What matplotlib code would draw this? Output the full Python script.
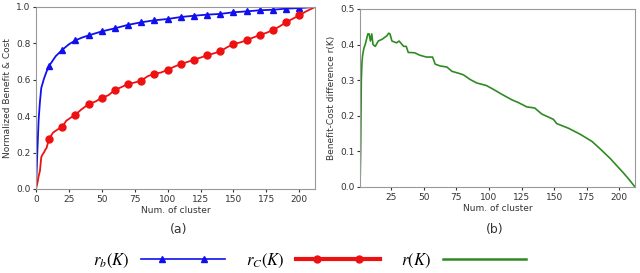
import matplotlib
matplotlib.use("Agg")
from matplotlib import pyplot as plt
from matplotlib.lines import Line2D
from matplotlib.legend_handler import HandlerLine2D

# benefit r_b(K)
benefit_k = [0, 1, 2, 3, 4, 6, 8, 10, 15, 20, 25, 30, 35, 40, 50, 60, 70, 80, 90,
             100, 110, 120, 130, 140, 150, 160, 170, 180, 190, 200, 212]
benefit_v = [0.0, 0.2, 0.38, 0.48, 0.555, 0.605, 0.645, 0.677, 0.73, 0.765, 0.795,
             0.817, 0.832, 0.844, 0.866, 0.883, 0.902, 0.916, 0.927, 0.934, 0.945,
             0.952, 0.958, 0.962, 0.971, 0.976, 0.982, 0.985, 0.991, 0.994, 1.0]

# cost r_c(K)
cost_k = [0, 1, 2, 3, 4, 5, 6, 7, 8, 10, 13, 16, 20, 23, 26, 30, 35, 40, 45, 50,
          55, 60, 65, 70, 75, 80, 85, 90, 95, 100, 105, 110, 115, 120, 125, 130,
          135, 140, 145, 150, 155, 160, 165, 170, 175, 180, 185, 190, 195, 200,
          205, 212]
cost_v = [0.0, 0.03, 0.07, 0.1, 0.175, 0.19, 0.2, 0.215, 0.225, 0.277, 0.31, 0.325,
          0.343, 0.375, 0.39, 0.409, 0.44, 0.466, 0.48, 0.501, 0.515, 0.545, 0.56,
          0.578, 0.585, 0.596, 0.62, 0.633, 0.64, 0.655, 0.672, 0.686, 0.698, 0.71,
          0.722, 0.734, 0.745, 0.756, 0.778, 0.796, 0.805, 0.817, 0.832, 0.846,
          0.858, 0.873, 0.893, 0.916, 0.935, 0.954, 0.975, 1.0]

# difference r(K)
diff_k = [1, 1.5, 2, 2.5, 3, 4, 5, 6, 7, 8, 9, 10, 11, 12.7, 15, 18, 21.7, 23, 24,
          25.5, 29, 31, 34.5, 36.5, 38, 43, 47, 52, 56.7, 58.7, 62.5, 67.7, 71.5,
          78, 80.4, 85.5, 90.7, 98, 103, 110, 117.5, 122.6, 129, 135, 140.5, 149.4,
          152, 161, 170, 179, 185, 193, 198, 203, 207.7, 212]
diff_v = [0.0, 0.1, 0.3, 0.35, 0.37, 0.39, 0.40, 0.415, 0.43, 0.43, 0.41, 0.43, 0.40,
          0.395, 0.41, 0.415, 0.425, 0.432, 0.43, 0.41, 0.405, 0.41, 0.395, 0.395,
          0.378, 0.377, 0.37, 0.365, 0.365, 0.345, 0.34, 0.337, 0.325, 0.318, 0.315,
          0.302, 0.292, 0.285, 0.275, 0.26, 0.245, 0.237, 0.225, 0.222, 0.205, 0.19,
          0.178, 0.165, 0.148, 0.128, 0.108, 0.08, 0.06, 0.04, 0.02, 0.0]

marker_ks = list(range(10, 201, 10))

plt.rcParams["mathtext.fontset"] = "stix"
tick_fs = 6.5
spine_col = "#999999"
text_col = "#333333"
blue = "#1010ee"
red = "#ee1111"
green = "#2e8b22"


class InsetMarkers(HandlerLine2D):
    # two markers at 1/4 and 3/4 of the sample line
    def create_artists(self, *args, **kwargs):
        arts = super().create_artists(*args, **kwargs)
        arts[0].set_markevery([1, 3])
        return arts


fig = plt.figure(figsize=(6.4, 2.73), dpi=100)
ax1 = fig.add_axes([36 / 640, 1 - 189 / 273, 279 / 640, 182 / 273])
ax2 = fig.add_axes([360 / 640, 1 - 187 / 273, 275 / 640, 178 / 273])

blue_marks = [i for i, k in enumerate(benefit_k) if k in marker_ks]
red_marks = [i for i, k in enumerate(cost_k) if k in marker_ks]

ax1.plot(benefit_k, benefit_v, color=blue, lw=1.3, marker="^", ms=5,
         markevery=blue_marks)
ax1.plot(cost_k, cost_v, color=red, lw=1.3, marker="o", ms=5,
         markevery=red_marks)
ax1.set_xlim(0, 212)
ax1.set_ylim(0, 1)
ax1.set_xticks(range(0, 201, 25))
ax1.set_yticks([0, 0.2, 0.4, 0.6, 0.8, 1.0])
ax1.set_xlabel("Num. of cluster", fontsize=tick_fs, color=text_col, labelpad=2)
ax1.set_ylabel("Normalized Benefit & Cost", fontsize=tick_fs, color=text_col,
               labelpad=3)

ax2.plot(diff_k, diff_v, color=green, lw=1.2)
ax2.set_xlim(1, 212)
ax2.set_ylim(0, 0.5)
ax2.set_xticks(range(25, 201, 25))
ax2.set_yticks([0, 0.1, 0.2, 0.3, 0.4, 0.5])
ax2.set_xlabel("Num. of cluster", fontsize=tick_fs, color=text_col, labelpad=2)
ax2.set_ylabel("Benefit-Cost difference r(K)", fontsize=tick_fs, color=text_col,
               labelpad=3)

for ax in (ax1, ax2):
    ax.tick_params(labelsize=tick_fs, colors=text_col, length=2.5, pad=1.5)
    for s in ax.spines.values():
        s.set_color(spine_col)

fig.text(179 / 640, 1 - 229 / 273, "(a)", fontsize=9, ha="center", va="center",
         color=text_col)
fig.text(495 / 640, 1 - 229 / 273, "(b)", fontsize=9, ha="center", va="center",
         color=text_col)

h_b = Line2D([], [], color=blue, lw=1.2, marker="^", ms=5)
h_c = Line2D([], [], color=red, lw=3, marker="o", ms=5)
h_r = Line2D([], [], color=green, lw=1.8)
labels = ["$r_b(K)$", "$r_C(K)$", "$r(K)$"]
fig.legend([h_b, h_c, h_r], labels, loc="center",
           bbox_to_anchor=(0.484, 1 - 260 / 273),
           ncol=3, frameon=False, fontsize=12, numpoints=5, handlelength=5.0,
           handletextpad=0.7, columnspacing=1.3, markerfirst=False,
           handler_map={h_b: InsetMarkers(marker_pad=0),
                        h_c: InsetMarkers(marker_pad=0),
                        h_r: HandlerLine2D(marker_pad=0)})

fig.savefig("out.png", dpi=100)
